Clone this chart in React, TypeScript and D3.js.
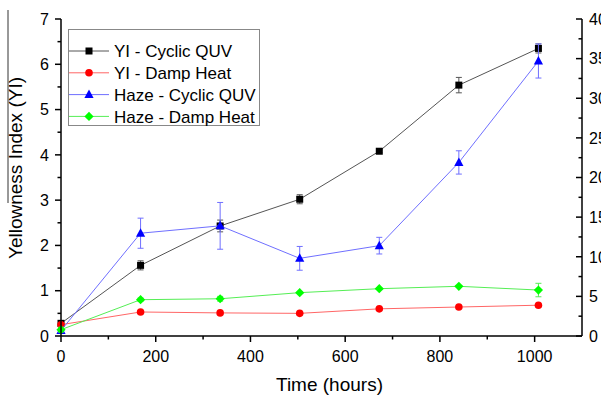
import React from 'react';
import * as d3 from 'd3';

const hours = [0, 168, 336, 504, 672, 840, 1008];

// left axis (YI)
const yiQuv = [0.28, 1.56, 2.43, 3.02, 4.08, 5.54, 6.35];
const yiQuvErr = [0.05, 0.1, 0.13, 0.1, 0.03, 0.17, 0.1];
const yiDamp = [0.25, 0.53, 0.51, 0.5, 0.6, 0.64, 0.68];
const yiDampErr = [0.02, 0.02, 0.02, 0.02, 0.02, 0.02, 0.02];

// right axis (haze)
const hazeQuv = [0.7, 12.97, 13.9, 9.8, 11.4, 21.9, 34.7];
const hazeQuvErr = [0.3, 1.9, 2.95, 1.5, 1.05, 1.47, 2.15];
const hazeDamp = [0.8, 4.58, 4.7, 5.47, 5.97, 6.27, 5.8];
const hazeDampErr = [0.3, 0.2, 0.3, 0.1, 0.1, 0.1, 0.85];

const xTicks = [0, 200, 400, 600, 800, 1000];
const yTicks = [0, 1, 2, 3, 4, 5, 6, 7];
const y2Ticks = [0, 5, 10, 15, 20, 25, 30, 35, 40];

const font = 'Liberation Sans, Arial, sans-serif';

export default function App() {
  const left = 61, right = 582, top = 19, bottom = 336;
  const x = d3.scaleLinear().domain([0, 1100]).range([left, right]);
  const y = d3.scaleLinear().domain([0, 7]).range([bottom, top]);
  const y2 = d3.scaleLinear().domain([0, 40]).range([bottom, top]);

  const series = [
    { name: 'YI - Cyclic QUV', vals: yiQuv, err: yiQuvErr, sc: y, line: '#555555', mark: '#000000', shape: 'square' },
    { name: 'YI - Damp Heat', vals: yiDamp, err: yiDampErr, sc: y, line: '#ff6666', mark: '#ff0000', shape: 'circle' },
    { name: 'Haze - Cyclic QUV', vals: hazeQuv, err: hazeQuvErr, sc: y2, line: '#6f6fff', mark: '#0000ff', shape: 'triangle' },
    { name: 'Haze - Damp Heat', vals: hazeDamp, err: hazeDampErr, sc: y2, line: '#55ee55', mark: '#00ff00', shape: 'diamond' },
  ];

  const marker = (shape: string, cx: number, cy: number, fill: string, key?: any) => {
    if (shape === 'square') return <rect key={key} x={cx - 3.5} y={cy - 3.5} width={7} height={7} fill={fill} />;
    if (shape === 'circle') return <circle key={key} cx={cx} cy={cy} r={3.8} fill={fill} />;
    if (shape === 'triangle')
      return <path key={key} d={`M${cx},${cy - 5}L${cx + 4.6},${cy + 3.5}L${cx - 4.6},${cy + 3.5}Z`} fill={fill} />;
    return <path key={key} d={`M${cx},${cy - 4.6}L${cx + 4.6},${cy}L${cx},${cy + 4.6}L${cx - 4.6},${cy}Z`} fill={fill} />;
  };

  const minorX = d3.range(100, 1100, 200);
  const minorY = d3.range(0.5, 7, 1);
  const minorY2 = d3.range(2.5, 40, 5);

  return (
    <svg width={601} height={397} style={{ position: 'absolute', left: 0, top: 0, background: '#fff' }} fontFamily={font}>
      <rect width={601} height={397} fill="#fff" />
      <line x1={8} x2={8} y1={10} y2={203} stroke="#333" strokeWidth={1} />

      {series.map((s, si) => {
        const line = d3.line<number>().x((_, i) => x(hours[i])).y((v) => s.sc(v));
        return (
          <g key={si}>
            <path d={line(s.vals) || ''} fill="none" stroke={s.line} strokeWidth={1} />
            {s.vals.map((v, i) => {
              const cx = x(hours[i]);
              const y1 = s.sc(v + s.err[i]);
              const y0 = s.sc(v - s.err[i]);
              return (
                <g key={i} stroke={s.line} strokeWidth={1}>
                  <line x1={cx} x2={cx} y1={y1} y2={y0} />
                  <line x1={cx - 3} x2={cx + 3} y1={y1} y2={y1} />
                  <line x1={cx - 3} x2={cx + 3} y1={y0} y2={y0} />
                </g>
              );
            })}
            {s.vals.map((v, i) => marker(s.shape, x(hours[i]), s.sc(v), s.mark, i))}
          </g>
        );
      })}

      {/* axes */}
      <g stroke="#000" strokeWidth={1.5}>
        <line x1={left} x2={right} y1={bottom} y2={bottom} />
        <line x1={left} x2={left} y1={top} y2={bottom} />
        <line x1={right} x2={right} y1={top} y2={bottom} />
        {xTicks.map((t) => <line key={'xt' + t} x1={x(t)} x2={x(t)} y1={bottom} y2={bottom + 6} />)}
        {minorX.map((t) => <line key={'xm' + t} x1={x(t)} x2={x(t)} y1={bottom} y2={bottom + 3.5} />)}
        {yTicks.map((t) => <line key={'yt' + t} x1={left - 6} x2={left} y1={y(t)} y2={y(t)} />)}
        {minorY.map((t) => <line key={'ym' + t} x1={left - 3.5} x2={left} y1={y(t)} y2={y(t)} />)}
        {y2Ticks.map((t) => <line key={'rt' + t} x1={right - 6} x2={right} y1={y2(t)} y2={y2(t)} />)}
        {minorY2.map((t) => <line key={'rm' + t} x1={right - 3.5} x2={right} y1={y2(t)} y2={y2(t)} />)}
      </g>

      <g fontSize={16} fill="#000">
        {xTicks.map((t) => (
          <text key={t} x={x(t)} y={362} textAnchor="middle">{t}</text>
        ))}
        {yTicks.map((t) => (
          <text key={t} x={49} y={y(t)} dy="0.36em" textAnchor="end">{t}</text>
        ))}
        {y2Ticks.map((t) => (
          <text key={t} x={589} y={y2(t)} dy="0.36em" textAnchor="start">{t}</text>
        ))}
      </g>

      <text x={329.5} y={391} fontSize={19} textAnchor="middle">Time (hours)</text>
      <text transform="translate(22,168) rotate(-90)" fontSize={19} textAnchor="middle">Yellowness Index (YI)</text>

      {/* legend */}
      <rect x={68.5} y={29.5} width={191} height={96} fill="#fff" stroke="#888" strokeWidth={1} />
      {series.map((s, i) => {
        const ly = 51 + i * 21.8;
        return (
          <g key={'lg' + i}>
            <line x1={69} x2={109} y1={ly} y2={ly} stroke={s.line} strokeWidth={1} />
            {marker(s.shape, 89, ly, s.mark)}
            <text x={114} y={ly} dy="0.36em" fontSize={17}>{s.name}</text>
          </g>
        );
      })}
    </svg>
  );
}
